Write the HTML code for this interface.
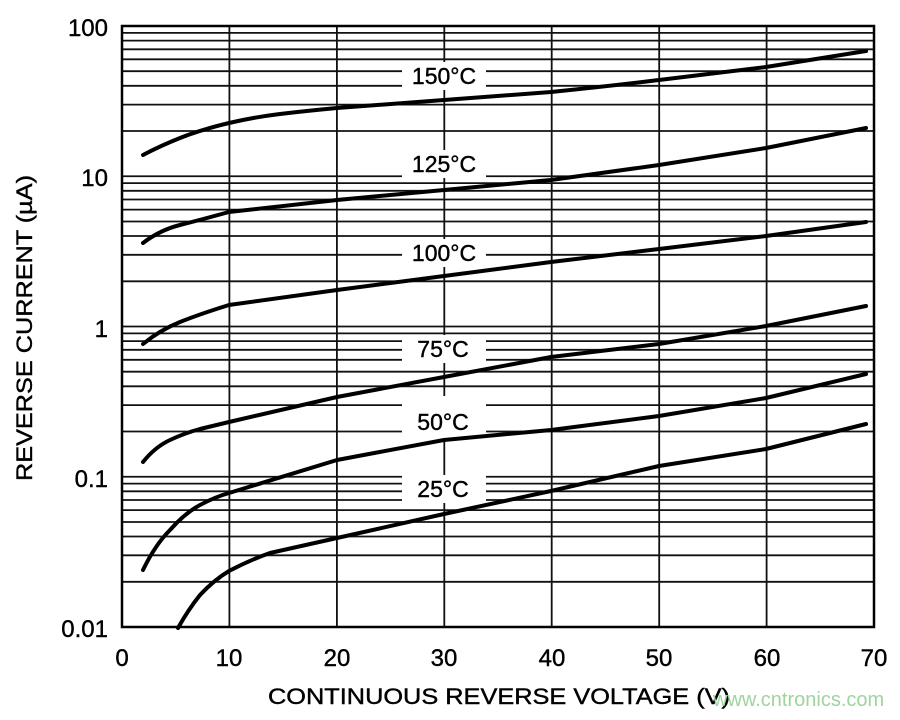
<!DOCTYPE html><html><head><style>body{margin:0;background:#fff}</style></head><body>
<svg width="900" height="715" xmlns="http://www.w3.org/2000/svg" font-family="Liberation Sans, Arial, sans-serif">
<rect width="900" height="715" fill="#fff"/>
<g stroke="#111" stroke-width="1.8">
<path d="M122 627H874M122 581.8H874M122 555.3H874M122 536.5H874M122 522H874M122 510.1H874M122 500H874M122 491.3H874M122 483.6H874
M122 476.75H874M122 431.5H874M122 405.1H874M122 386.3H874M122 371.7H874M122 359.8H874M122 349.8H874M122 341.1H874M122 333.4H874
M122 326.5H874M122 281.3H874M122 254.8H874M122 236H874M122 221.5H874M122 209.6H874M122 199.5H874M122 190.8H874M122 183.1H874
M122 176.25H874M122 131H874M122 104.6H874M122 85.8H874M122 71.2H874M122 59.3H874M122 49.3H874M122 40.6H874M122 32.9H874
M229.4 26V627M336.9 26V627M444.3 26V627M551.7 26V627M659.2 26V627M766.6 26V627"/>
</g>
<g fill="#fff">
<rect x="402" y="62" width="84" height="28"/>
<rect x="402" y="150" width="84" height="28"/>
<rect x="402" y="239" width="84" height="28"/>
<rect x="402" y="335" width="84" height="28"/>
<rect x="402" y="396" width="84" height="46"/>
<rect x="402" y="475" width="84" height="28"/>
</g>
<g font-size="23" text-anchor="middle" fill="#000" stroke="#000" stroke-width="0.4">
<text x="444" y="84">150°C</text>
<text x="444" y="172">125°C</text>
<text x="444" y="261">100°C</text>
<text x="443" y="357">75°C</text>
<text x="443" y="430">50°C</text>
<text x="443" y="497">25°C</text>
</g>
<g fill="none" stroke="#000" stroke-width="4" stroke-linecap="round" stroke-linejoin="round">
<path d="M143 155 Q160 146 180 138 T229 123 Q255 117 280 114 T337 108 L444 100 L551 92 Q610 86 659 80 L766 67 L866 51"/>
<path d="M143 243 Q160 230 180 225 T229 212 L337 200 L444 190 L551 180 L659 165 L766 148 L866 128"/>
<path d="M143 344 Q160 330 180 322 T229 305 L337 290 L444 276 L551 262 L659 249 L766 236 L866 222"/>
<path d="M143 462 Q155 447 170 440 Q185 433 200 429 L229 422 L337 397 L444 377 L551 357 L659 344 L766 326 L866 306"/>
<path d="M143 570 Q155 545 170 530 Q185 513 200 505 Q215 497 229 493 L337 460 L444 440 L551 430 L659 416 L766 398 L866 374"/>
<path d="M178 628 Q188 610 200 595 Q214 580 229 571 Q250 560 270 553 L337 538 L444 514 L551 491 L659 466 L766 449 L866 424"/>
</g>
<rect x="122" y="26" width="752" height="601" fill="none" stroke="#000" stroke-width="2.5"/>
<g font-size="24" text-anchor="end" fill="#000" stroke="#000" stroke-width="0.4">
<text x="108" y="36">100</text><text x="108" y="186">10</text><text x="108" y="337">1</text><text x="108" y="487">0.1</text><text x="108" y="637">0.01</text>
</g>
<g font-size="24" text-anchor="middle" fill="#000" stroke="#000" stroke-width="0.4">
<text x="122" y="666">0</text><text x="229" y="666">10</text><text x="337" y="666">20</text><text x="444" y="666">30</text><text x="552" y="666">40</text><text x="659" y="666">50</text><text x="767" y="666">60</text><text x="874" y="666">70</text>
</g>
<text x="268" y="704" font-size="22" stroke="#000" stroke-width="0.4" textLength="462" lengthAdjust="spacingAndGlyphs">CONTINUOUS REVERSE VOLTAGE (V)</text>
<text transform="translate(32,481) rotate(-90)" font-size="22" stroke="#000" stroke-width="0.4" textLength="306" lengthAdjust="spacingAndGlyphs">REVERSE CURRENT (µA)</text>
<text x="713" y="706" font-size="20" fill="#9fd49f">www.cntronics.com</text>
</svg></body></html>
